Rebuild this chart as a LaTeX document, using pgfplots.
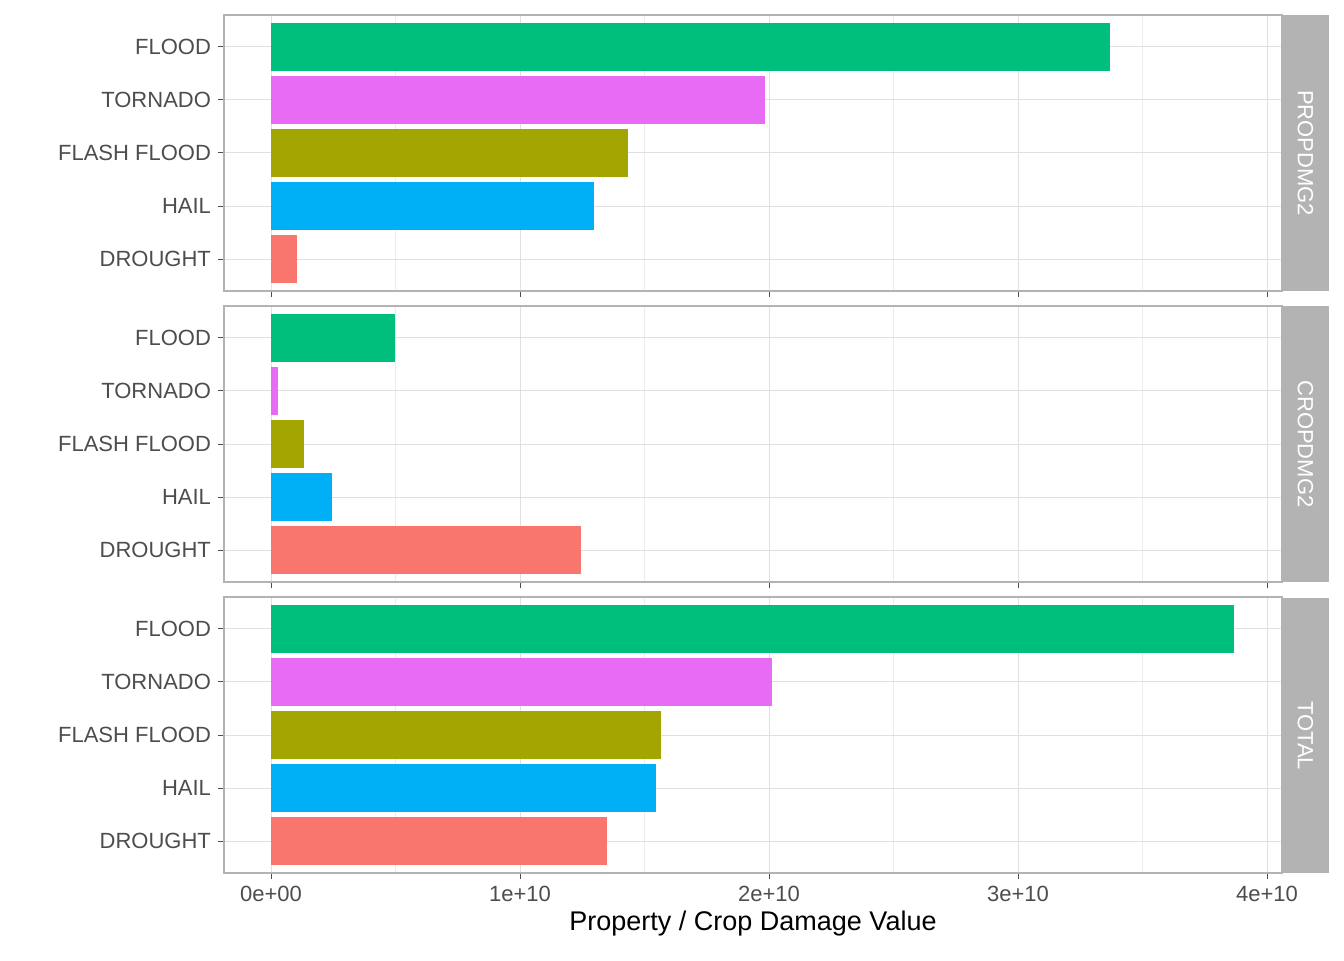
\documentclass[border=0pt]{standalone}
\usepackage{pgfplots}
\pgfplotsset{compat=1.18}
\usepackage{fontspec}
\setmainfont{Liberation Sans}
\definecolor{cFlood}{HTML}{00BF7D}
\definecolor{cTorn}{HTML}{E76BF3}
\definecolor{cFlash}{HTML}{A3A500}
\definecolor{cHail}{HTML}{00B0F6}
\definecolor{cDrought}{HTML}{F8766D}
\definecolor{gridc}{HTML}{E0E0E0}
\definecolor{strip}{HTML}{B3B3B3}
\definecolor{txt}{HTML}{4D4D4D}
\pgfplotsset{panel/.style={
  scale only axis, width=529pt, height=138pt,
  xmin=-0.1888, xmax=4.060, ymin=0.4, ymax=5.6,
  xbar, bar width=0.9, bar shift=0pt,
  ytick={1,2,3,4,5},
  yticklabels={DROUGHT,HAIL,FLASH FLOOD,TORNADO,FLOOD},
  xtick={0,1,2,3,4}, minor xtick={0.5,1.5,2.5,3.5},
  xmajorgrids, xminorgrids, ymajorgrids,
  major grid style={gridc, line width=0.5pt},
  minor grid style={gridc!60, line width=0.3pt},
  axis line style={strip, line width=0.6pt},
  tick style={txt, line width=0.5pt},
  major tick length=3pt, minor tick length=0pt,
  tick align=outside, xtick pos=bottom, ytick pos=left,
  ticklabel style={font=\fontsize{11}{12}\selectfont, text=txt},
  every axis plot/.append style={draw=none},
}}
\begin{document}
\begin{tikzpicture}
\useasboundingbox (0pt,0pt) rectangle (672pt,480pt);
% panel 1
\begin{axis}[panel, at={(112pt,334.5pt)}, anchor=south west, xticklabels={}]
\addplot[fill=cFlood] coordinates {(3.369,5)};
\addplot[fill=cTorn] coordinates {(1.984,4)};
\addplot[fill=cFlash] coordinates {(1.434,3)};
\addplot[fill=cHail] coordinates {(1.297,2)};
\addplot[fill=cDrought] coordinates {(0.104,1)};
\end{axis}
% panel 2
\begin{axis}[panel, at={(112pt,189pt)}, anchor=south west, xticklabels={}]
\addplot[fill=cFlood] coordinates {(0.498,5)};
\addplot[fill=cTorn] coordinates {(0.028,4)};
\addplot[fill=cFlash] coordinates {(0.133,3)};
\addplot[fill=cHail] coordinates {(0.245,2)};
\addplot[fill=cDrought] coordinates {(1.245,1)};
\end{axis}
% panel 3
\begin{axis}[panel, at={(112pt,43.5pt)}, anchor=south west,
  xticklabels={0e+00,1e+10,2e+10,3e+10,4e+10},
  xlabel={Property / Crop Damage Value},
  xlabel style={font=\fontsize{13.5}{15}\selectfont, text=black, yshift=2pt}]
\addplot[fill=cFlood] coordinates {(3.867,5)};
\addplot[fill=cTorn] coordinates {(2.012,4)};
\addplot[fill=cFlash] coordinates {(1.566,3)};
\addplot[fill=cHail] coordinates {(1.546,2)};
\addplot[fill=cDrought] coordinates {(1.349,1)};
\end{axis}
% strips
\fill[strip] (641pt,334.5pt) rectangle (664.5pt,472.5pt);
\fill[strip] (641pt,189pt) rectangle (664.5pt,327pt);
\fill[strip] (641pt,43.5pt) rectangle (664.5pt,181pt);
\node[rotate=-90, text=white, font=\fontsize{11}{12}\selectfont] at (652.75pt,403.5pt) {PROPDMG2};
\node[rotate=-90, text=white, font=\fontsize{11}{12}\selectfont] at (652.75pt,258pt) {CROPDMG2};
\node[rotate=-90, text=white, font=\fontsize{11}{12}\selectfont] at (652.75pt,112.25pt) {TOTAL};
\end{tikzpicture}
\end{document}
